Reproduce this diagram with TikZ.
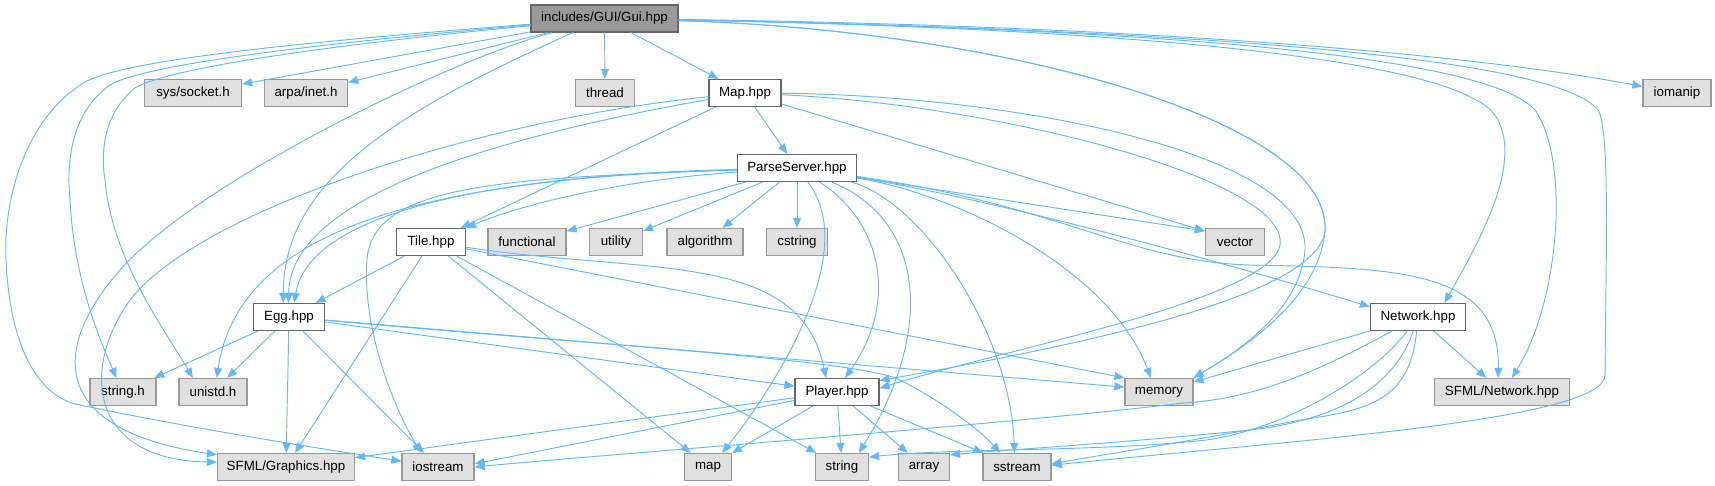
\documentclass[tikz,border=0pt]{standalone}
\usepackage{fontspec}
\setmainfont{Liberation Sans}
\usetikzlibrary{arrows.meta}
\definecolor{edgec}{HTML}{63B8FF}
\definecolor{extfill}{HTML}{E0E0E0}
\definecolor{extdraw}{HTML}{999999}
\definecolor{intdraw}{HTML}{666666}
\definecolor{rootfill}{HTML}{999999}
\begin{document}
\begin{tikzpicture}[x=0.75pt,y=-0.75pt,
 nd/.style={rectangle, inner sep=0pt, minimum height=20.25pt, font=\fontsize{10}{12}\selectfont, text=black, line width=0.9pt},
 ext/.style={nd, draw=extdraw, fill=extfill},
 int/.style={nd, draw=intdraw, fill=white},
 root/.style={nd, draw=intdraw, fill=rootfill},
 e/.style={draw=edgec, line width=0.7pt, -{Triangle[length=7.5pt,width=6pt]}}]
\useasboundingbox (0,0) rectangle (1715,485);
% nodes
\node[root, minimum width=110.25pt] (gui) at (604.5,18.5) {includes/GUI/Gui.hpp};
\node[ext, minimum width=72.75pt] (socket) at (193,93) {sys/socket.h};
\node[ext, minimum width=62.25pt] (inet) at (306,93) {arpa/inet.h};
\node[ext, minimum width=44.25pt] (thread) at (605,93) {thread};
\node[int, minimum width=54pt] (mapH) at (745,93) {Map.hpp};
\node[ext, minimum width=51pt] (iomanip) at (1677,93) {iomanip};
\node[int, minimum width=89.25pt] (parse) at (797,168) {ParseServer.hpp};
\node[int, minimum width=51.75pt] (tile) at (431,242) {Tile.hpp};
\node[ext, minimum width=58.5pt] (functional) at (527,242) {functional};
\node[ext, minimum width=39.75pt] (utility) at (616,242) {utility};
\node[ext, minimum width=57pt] (algorithm) at (705,242) {algorithm};
\node[ext, minimum width=45.75pt] (cstring) at (797,242) {cstring};
\node[ext, minimum width=44.25pt] (vector) at (1235,242) {vector};
\node[int, minimum width=53.25pt] (egg) at (289,317) {Egg.hpp};
\node[int, minimum width=71.25pt] (network) at (1418,317) {Network.hpp};
\node[ext, minimum width=49.5pt] (stringh) at (123,392) {string.h};
\node[ext, minimum width=51pt] (unistd) at (213,392) {unistd.h};
\node[int, minimum width=63pt] (player) at (837,392) {Player.hpp};
\node[ext, minimum width=51pt] (memory) at (1159,392) {memory};
\node[ext, minimum width=101.25pt] (sfmlnet) at (1502,392) {SFML/Network.hpp};
\node[ext, minimum width=102.75pt] (sfmlgfx) at (286,467) {SFML/Graphics.hpp};
\node[ext, minimum width=54pt] (iostream) at (438,467) {iostream};
\node[ext, minimum width=35.25pt] (mapS) at (708,467) {map};
\node[ext, minimum width=39.75pt] (string) at (842,467) {string};
\node[ext, minimum width=38.25pt] (array) at (924,467) {array};
\node[ext, minimum width=51pt] (sstream) at (1017,467) {sstream};
% Gui.hpp
\draw[e] (gui) -- (socket);
\draw[e] (gui) -- (inet);
\draw[e] (gui) -- (thread);
\draw[e] (gui) -- (mapH);
\draw[e] (gui) .. controls (1100,25) and (1450,50) .. (iomanip);
\draw[e] (gui) .. controls (1100,28) and (1450,55) .. (1495,115) .. controls (1525,160) and (1480,240) .. (network.28);
\draw[e] (gui) .. controls (1100,28) and (1480,50) .. (1535,110) .. controls (1570,160) and (1560,300) .. (sfmlnet.55);
\draw[e] (gui) .. controls (1100,28) and (1550,50) .. (1598,110) .. controls (1610,130) and (1606,250) .. (1605,375) .. controls (1605,420) and (1300,440) .. (sstream.3);
\draw[e] (gui) .. controls (1000,30) and (1330,120) .. (1325,230) .. controls (1320,300) and (1240,350) .. (memory.north east);
\draw[e] (gui) .. controls (1000,30) and (1330,120) .. (1325,230) .. controls (1320,300) and (1050,350) .. (player.15);
\draw[e] (gui) .. controls (400,110) and (283,180) .. (egg.112);
\draw[e] (gui) .. controls (300,45) and (140,66) .. (110,85) .. controls (72,112) and (66,160) .. (70,200) .. controls (74,280) and (100,340) .. (stringh.115);
\draw[e] (gui) .. controls (300,48) and (165,70) .. (135,88) .. controls (105,112) and (100,150) .. (105,180) .. controls (112,260) and (165,330) .. (unistd.145);
\draw[e] (gui) .. controls (300,42) and (125,60) .. (85,82) .. controls (25,118) and (3,200) .. (6,260) .. controls (10,350) and (40,398) .. (80,405) .. controls (200,430) and (330,450) .. (iostream);
\draw[e] (gui) .. controls (450,60) and (200,180) .. (120,270) .. controls (50,350) and (50,430) .. (sfmlgfx.170);
% Map.hpp
\draw[e] (mapH) -- (parse);
\draw[e] (mapH) -- (tile);
\draw[e] (mapH) .. controls (480,140) and (290,200) .. (egg.92);
\draw[e] (mapH) .. controls (480,120) and (200,210) .. (130,300) .. controls (80,370) and (90,460) .. (sfmlgfx.176);
\draw[e] (mapH) -- (vector.160);
\draw[e] (mapH) .. controls (1000,95) and (1310,150) .. (1305,250) .. controls (1300,310) and (1240,350) .. (memory.north east);
\draw[e] (mapH) .. controls (1000,105) and (1290,180) .. (1280,245) .. controls (1270,300) and (1000,350) .. (player.5);
% ParseServer.hpp
\draw[e] (parse) .. controls (620,180) and (520,205) .. (tile.north east);
\draw[e] (parse) -- (functional);
\draw[e] (parse) -- (utility);
\draw[e] (parse) -- (algorithm);
\draw[e] (parse) -- (cstring);
\draw[e] (parse) -- (vector.160);
\draw[e] (parse) .. controls (500,175) and (310,210) .. (egg.70);
\draw[e] (parse) .. controls (450,178) and (240,220) .. (unistd.75);
\draw[e] (parse) .. controls (500,178) and (372,185) .. (367,260) .. controls (362,330) and (395,410) .. (iostream.140);
\draw[e] (parse) .. controls (860,250) and (780,380) .. (mapS.45);
\draw[e] (parse) .. controls (880,220) and (900,300) .. (player.60);
\draw[e] (parse) .. controls (925,220) and (935,330) .. (string.40);
\draw[e] (parse) .. controls (920,200) and (1010,330) .. (sstream.100);
\draw[e] (parse) .. controls (960,195) and (1110,270) .. (memory.120);
\draw[e] (parse) .. controls (1000,200) and (1250,270) .. (network.168);
\draw[e] (parse) .. controls (1060,205) and (1130,262) .. (1250,265) .. controls (1400,268) and (1500,270) .. (sfmlnet.105);
% Tile.hpp
\draw[e] (tile) -- (egg);
\draw[e] (tile) -- (sfmlgfx);
\draw[e] (tile) -- (mapS);
\draw[e] (tile) -- (string);
\draw[e] (tile) .. controls (650,275) and (800,250) .. (player.128);
\draw[e] (tile) -- (memory.north west);
% Egg.hpp
\draw[e] (egg) -- (stringh);
\draw[e] (egg) -- (unistd);
\draw[e] (egg) -- (sfmlgfx);
\draw[e] (egg) -- (iostream);
\draw[e] (egg) -- (player);
\draw[e] (egg) -- (memory.172);
\draw[e] (egg) .. controls (600,345) and (860,360) .. (900,380) .. controls (940,400) and (980,430) .. (sstream.140);
% Player.hpp
\draw[e] (player) -- (sfmlgfx);
\draw[e] (player) -- (iostream.5);
\draw[e] (player) -- (mapS);
\draw[e] (player) -- (string);
\draw[e] (player) -- (array);
\draw[e] (player) -- (sstream);
% Network.hpp
\draw[e] (network) -- (memory);
\draw[e] (network) -- (sfmlnet);
\draw[e] (network) .. controls (1320,370) and (1260,398) .. (1184,403) .. controls (1000,425) and (600,455) .. (iostream.east);
\draw[e] (network) .. controls (1370,380) and (1280,430) .. (1206,440) .. controls (1100,452) and (950,448) .. (string.20);
\draw[e] (network) .. controls (1395,385) and (1340,420) .. (1250,430) .. controls (1100,445) and (1000,450) .. (array.25);
\draw[e] (network) .. controls (1410,400) and (1370,410) .. (1300,420) .. controls (1200,440) and (1100,455) .. (sstream.5);
\end{tikzpicture}
\end{document}
